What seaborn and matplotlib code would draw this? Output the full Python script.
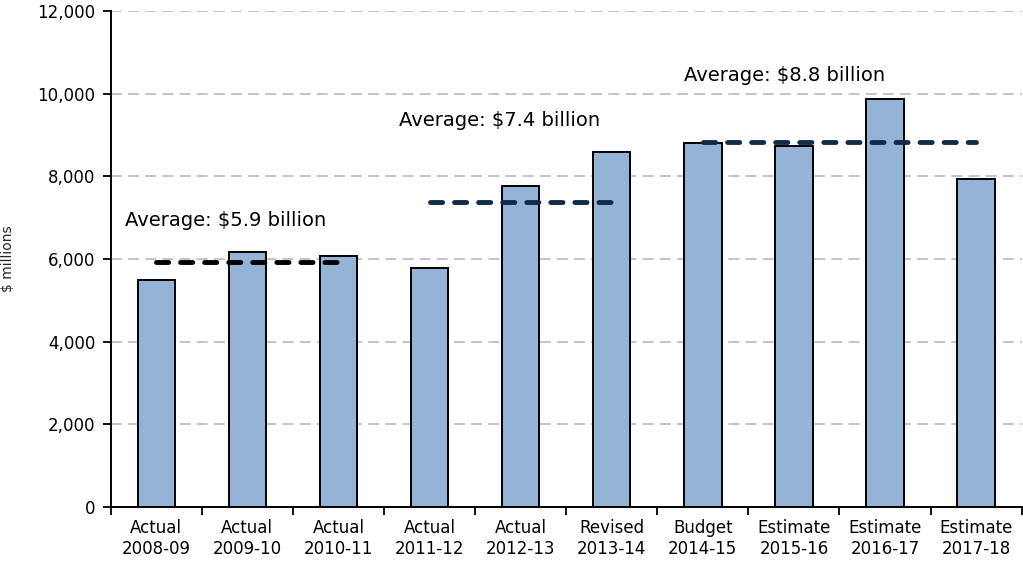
import matplotlib
matplotlib.use("Agg")
import matplotlib.pyplot as plt
import seaborn as sns
import pandas as pd
from matplotlib.ticker import FuncFormatter, FixedLocator

# data
labels = ["Actual\n2008-09", "Actual\n2009-10", "Actual\n2010-11", "Actual\n2011-12",
          "Actual\n2012-13", "Revised\n2013-14", "Budget\n2014-15", "Estimate\n2015-16",
          "Estimate\n2016-17", "Estimate\n2017-18"]
values = [5490, 6170, 6070, 5780, 7760, 8580, 8815, 8735, 9880, 7945]

avg_values = [5920, 7370, 8820]
avg_start = [0, 3, 6]
avg_end = [2, 5, 9]
avg_text = ["Average: $5.9 billion", "Average: $7.4 billion", "Average: $8.8 billion"]
avg_colors = ["#000000", "#132b49", "#132b49"]

df = pd.DataFrame({"year": labels, "value": values})

sns.set_style("white")
plt.rcParams["font.family"] = ["DejaVu Sans"]
plt.rcParams["text.color"] = "black"
plt.rcParams["xtick.color"] = "black"
plt.rcParams["ytick.color"] = "black"

fig = plt.figure(figsize=(10.23, 5.65), dpi=100)
ax = fig.add_axes([0.1082, 0.1027, 0.8905, 0.8778])

sns.barplot(data=df, x="year", y="value", color="#95b3d7", saturation=1,
            width=0.41, edgecolor="black", linewidth=1.4, ax=ax, zorder=2)

# average lines
for v, s, e, c in zip(avg_values, avg_start, avg_end, avg_colors):
    ax.plot([s, e], [v, v], color=c, linewidth=3.5, dashes=(2.5, 2.45),
            dash_capstyle="round", solid_capstyle="round", zorder=3)

# average labels
text_pos = [(-0.34, 6940), (2.66, 9340), (5.79, 10430)]
for (tx, ty), t in zip(text_pos, avg_text):
    ax.text(tx, ty, t, fontsize=14, ha="left", va="center", color="black")

ax.set_ylim(0, 12000)
ax.set_xlim(-0.5, len(labels) - 0.5)
ax.set_yticks(range(0, 12001, 2000))
ax.yaxis.set_major_formatter(FuncFormatter(lambda v, p: f"{int(v):,}"))
ax.yaxis.grid(True, color="#bfbfbf", linestyle=(0, (6, 3.5)), linewidth=1.3, zorder=0)
ax.set_axisbelow(True)

ax.xaxis.set_minor_locator(FixedLocator([i - 0.5 for i in range(len(labels) + 1)]))
ax.tick_params(axis="x", which="both", bottom=True)
ax.tick_params(axis="y", which="both", left=True)
ax.tick_params(axis="x", which="major", length=0, labelsize=12, pad=9)
ax.tick_params(axis="x", which="minor", length=6, width=1.3, color="black", direction="out")
ax.tick_params(axis="y", which="major", length=6, width=1.3, color="black", direction="out",
               labelsize=12, pad=5)
ax.set_xlabel("")
ax.set_ylabel("$ millions", fontsize=10)
ax.yaxis.set_label_coords(-0.105, 0.5)

for side in ["top", "right"]:
    ax.spines[side].set_visible(False)
for side in ["left", "bottom"]:
    ax.spines[side].set_color("black")
    ax.spines[side].set_linewidth(1.4)

fig.savefig("out.png", dpi=100)
plt.close(fig)
